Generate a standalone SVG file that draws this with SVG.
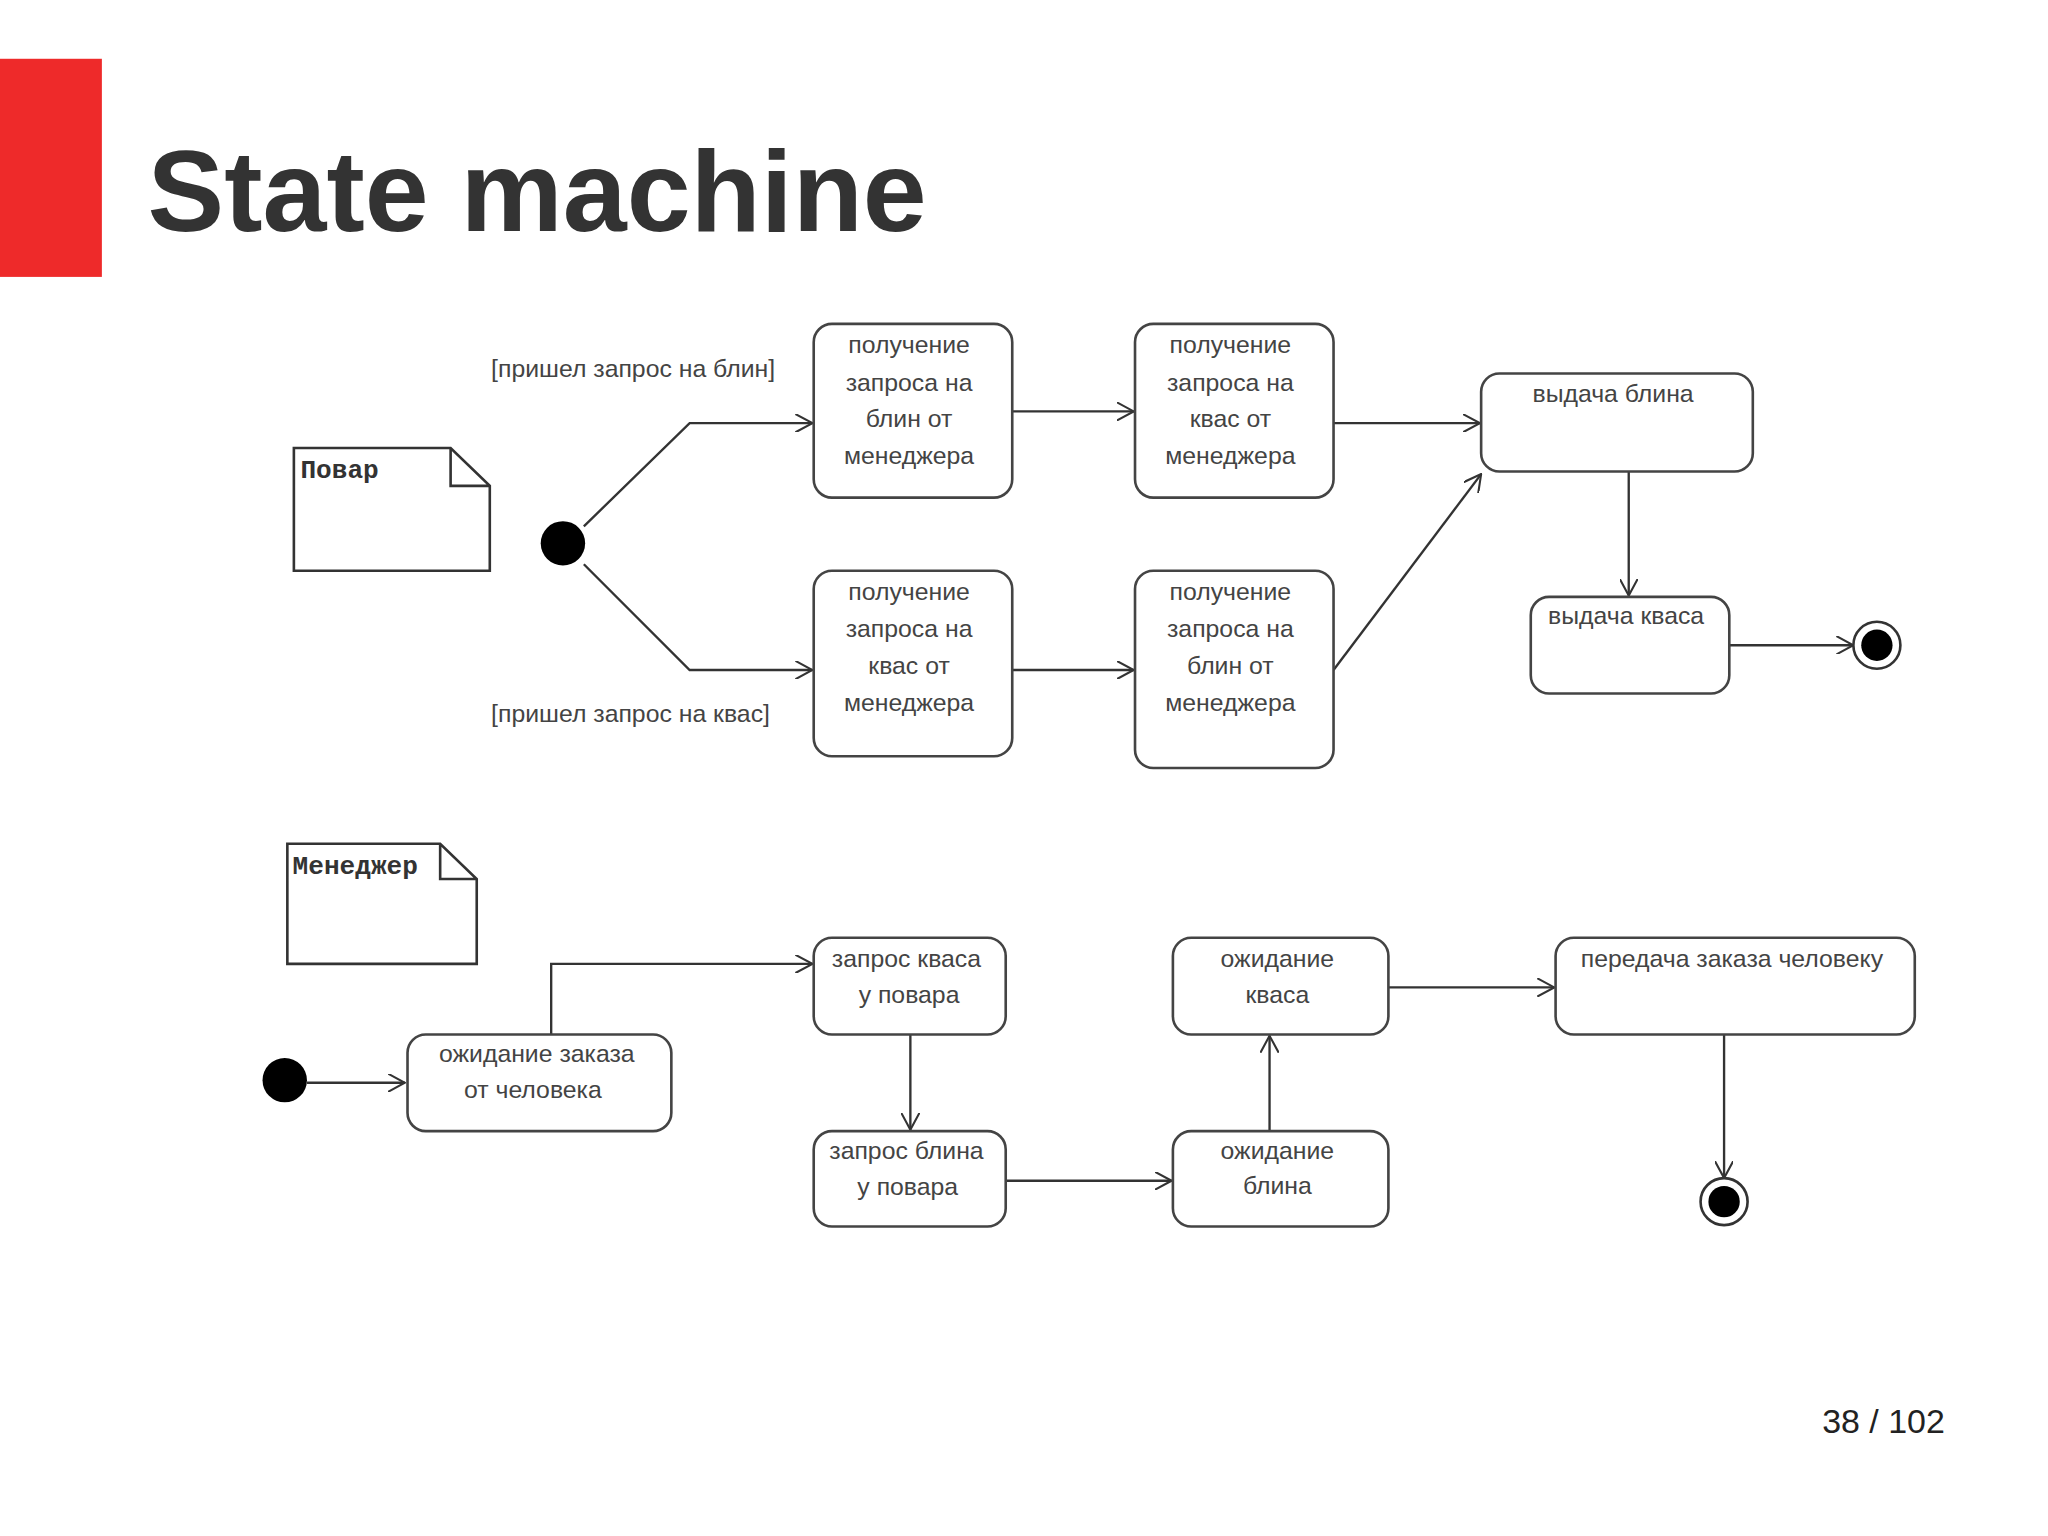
<svg xmlns="http://www.w3.org/2000/svg" width="2048" height="1536" viewBox="0 0 2048 1536">
<defs>
<marker id="ah" viewBox="0 0 14 14" refX="13" refY="7" markerWidth="14" markerHeight="14" markerUnits="userSpaceOnUse" orient="auto"><path d="M0,0 L13,7 L0,14" fill="none" stroke="#333" stroke-width="1.6"/></marker>
<style>
.b{fill:#fff;stroke:#444;stroke-width:2}
.t{font-family:"Liberation Sans",Arial,sans-serif;font-size:19px;fill:#444;text-anchor:middle}
.g{font-family:"Liberation Sans",Arial,sans-serif;font-size:19px;fill:#444}
.m{font-family:"Liberation Mono","DejaVu Sans Mono",monospace;font-size:20px;fill:#333;font-weight:bold}
.c{fill:none;stroke:#333;stroke-width:1.8;marker-end:url(#ah)}
.l{fill:none;stroke:#333;stroke-width:1.8}
</style>
</defs>
<rect width="2048" height="1536" fill="#fff"/>
<g transform="scale(1.30612)">
<rect x="0" y="45" width="78" height="167" fill="#ee2a2a"/>
<text x="113" y="177" font-family="Liberation Sans,Arial,sans-serif" font-weight="bold" font-size="88" fill="#333">State machine</text>
<text x="1489" y="1097" text-anchor="end" font-family="Liberation Sans,Arial,sans-serif" font-size="26" fill="#222">38 / 102</text>

<g id="note-povar"><path d="M225,343 H345 L375,372 V437 H225 Z M345,343 V372 H375" fill="#fff" stroke="#333" stroke-width="2"/><text class="m" x="230" y="366">Повар</text></g>
<g id="note-manager"><path d="M220,646 H337 L365,673 V738 H220 Z M337,646 V673 H365" fill="#fff" stroke="#333" stroke-width="2"/><text class="m" x="224" y="669">Менеджер</text></g>

<g id="connectors">
<polyline class="c" points="447,403 528,324 622,324"/>
<polyline class="c" points="447,432 528,513 622,513"/>
<line class="c" x1="775" y1="315" x2="868" y2="315"/>
<line class="c" x1="1021" y1="324" x2="1133" y2="324"/>
<line class="c" x1="775" y1="513" x2="868" y2="513"/>
<line class="c" x1="1021" y1="513" x2="1134" y2="363"/>
<line class="c" x1="1247" y1="361" x2="1247" y2="456"/>
<line class="c" x1="1324" y1="494" x2="1419" y2="494"/>
<line class="c" x1="235" y1="829" x2="310" y2="829"/>
<polyline class="c" points="422,792 422,738 622,738"/>
<line class="c" x1="697" y1="792" x2="697" y2="865"/>
<line class="c" x1="770" y1="904" x2="897" y2="904"/>
<line class="c" x1="972" y1="866" x2="972" y2="793"/>
<line class="c" x1="1063" y1="756" x2="1190" y2="756"/>
<line class="c" x1="1320" y1="792" x2="1320" y2="902"/>
<text class="g" x="376" y="289">[пришел запрос на блин]</text>
<text class="g" x="376" y="553">[пришел запрос на квас]</text>
</g>

<g id="init1"><circle cx="431" cy="416" r="17" fill="#000"/></g>
<g id="init2"><circle cx="218" cy="827" r="17" fill="#000"/></g>
<g id="end1"><circle cx="1437" cy="494" r="18" fill="#fff" stroke="#333" stroke-width="2"/><circle cx="1437" cy="494" r="12" fill="#000"/></g>
<g id="end2"><circle cx="1320" cy="920" r="18" fill="#fff" stroke="#333" stroke-width="2"/><circle cx="1320" cy="920" r="12" fill="#000"/></g>

<g id="s1"><rect class="b" x="623" y="248" width="152" height="133" rx="14"/><text class="t" x="696" y="270">получение</text><text class="t" x="696" y="299">запроса на</text><text class="t" x="696" y="327">блин от</text><text class="t" x="696" y="355">менеджера</text></g>
<g id="s2"><rect class="b" x="869" y="248" width="152" height="133" rx="14"/><text class="t" x="942" y="270">получение</text><text class="t" x="942" y="299">запроса на</text><text class="t" x="942" y="327">квас от</text><text class="t" x="942" y="355">менеджера</text></g>
<g id="s3"><rect class="b" x="1134" y="286" width="208" height="75" rx="14"/><text class="t" x="1235" y="308">выдача блина</text></g>
<g id="s4"><rect class="b" x="623" y="437" width="152" height="142" rx="14"/><text class="t" x="696" y="459">получение</text><text class="t" x="696" y="488">запроса на</text><text class="t" x="696" y="516">квас от</text><text class="t" x="696" y="544">менеджера</text></g>
<g id="s5"><rect class="b" x="869" y="437" width="152" height="151" rx="14"/><text class="t" x="942" y="459">получение</text><text class="t" x="942" y="488">запроса на</text><text class="t" x="942" y="516">блин от</text><text class="t" x="942" y="544">менеджера</text></g>
<g id="s6"><rect class="b" x="1172" y="457" width="152" height="74" rx="14"/><text class="t" x="1245" y="478">выдача кваса</text></g>

<g id="m1"><rect class="b" x="312" y="792" width="202" height="74" rx="14"/><text class="t" x="411" y="813">ожидание заказа</text><text class="t" x="408" y="841">от человека</text></g>
<g id="m2"><rect class="b" x="623" y="718" width="147" height="74" rx="14"/><text class="t" x="694" y="740">запрос кваса</text><text class="t" x="696" y="768">у повара</text></g>
<g id="m3"><rect class="b" x="623" y="866" width="147" height="73" rx="14"/><text class="t" x="694" y="887">запрос блина</text><text class="t" x="695" y="915">у повара</text></g>
<g id="m4"><rect class="b" x="898" y="866" width="165" height="73" rx="14"/><text class="t" x="978" y="887">ожидание</text><text class="t" x="978" y="914">блина</text></g>
<g id="m5"><rect class="b" x="898" y="718" width="165" height="74" rx="14"/><text class="t" x="978" y="740">ожидание</text><text class="t" x="978" y="768">кваса</text></g>
<g id="m6"><rect class="b" x="1191" y="718" width="275" height="74" rx="14"/><text class="t" x="1326" y="740">передача заказа человеку</text></g>
</g>
</svg>
